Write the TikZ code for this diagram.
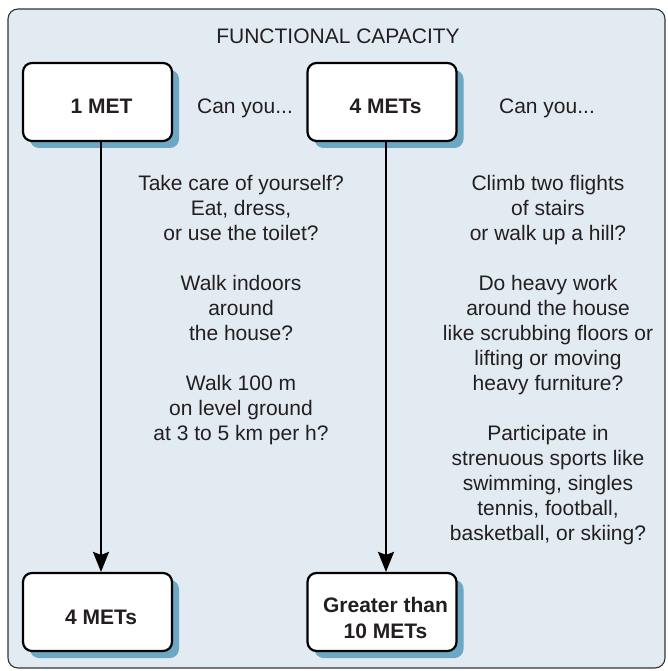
\documentclass[tikz,border=0pt]{standalone}
\usepackage{fontspec}
\setmainfont{Liberation Sans}
\usetikzlibrary{arrows.meta}
\definecolor{bgpanel}{HTML}{E3EBF2}
\definecolor{shadowblue}{HTML}{6CA7C3}
\definecolor{framegray}{HTML}{333333}
\definecolor{txtgray}{HTML}{231F20}
\begin{document}
\begin{tikzpicture}[x=1pt,y=-1pt,
  metbox/.style={draw=black,line width=2.2pt,fill=white,rounded corners=9pt,
    minimum width=149pt,minimum height=78pt,inner sep=0pt},
  shadowbox/.style={fill=shadowblue,rounded corners=9pt,minimum width=149pt,minimum height=78pt,inner sep=0pt},
  mettext/.style={align=center,font=\fontsize{21}{26}\selectfont\bfseries,text=txtgray,inner sep=0pt,anchor=base},
  bodytext/.style={align=center,font=\fontsize{21}{25}\selectfont,text=txtgray,inner sep=0pt},
  flow/.style={line width=2pt,-{Stealth[length=20pt,width=16pt,inset=3pt]}}]
\useasboundingbox (0,0) rectangle (668,671);
\draw[draw=framegray,fill=bgpanel,line width=1.1pt,rounded corners=10pt] (8,9) rectangle (665,668);
\node[bodytext] (title) at (338,36.5) {FUNCTIONAL CAPACITY};
% shadows
\node[shadowbox] (s1) at (104.5,109) {};
\node[shadowbox] (s2) at (389,109) {};
\node[shadowbox] (s3) at (104.5,619) {};
\node[shadowbox] (s4) at (389,619) {};
% boxes
\node[metbox] (met1) at (97.5,102) {};
\node[metbox] (met4) at (382,102) {};
\node[metbox] (res4) at (97.5,612) {};
\node[metbox] (res10) at (382,612) {};
\node[mettext] (t1) at (101.5,113.5) {1 MET};
\node[mettext] (t4) at (385.5,113.5) {4 METs};
\node[mettext] (tr4) at (101,624.5) {4 METs};
\node[mettext] (tr10a) at (385.5,612.3) {Greater than};
\node[mettext] (tr10b) at (385.5,638.3) {10 METs};
\node[bodytext,anchor=base] (can1) at (245,113.5) {Can you...};
\node[bodytext,anchor=base] (can2) at (547,113.5) {Can you...};
\node[bodytext,anchor=north] (left) at (241,175) {Take care of yourself?\\Eat, dress,\\or use the toilet?\\[25pt]Walk indoors\\around\\the house?\\[25pt]Walk 100 m\\on level ground\\at 3 to 5 km per h?};
\node[bodytext,anchor=north] (right) at (548,175) {Climb two flights\\of stairs\\or walk up a hill?\\[25pt]Do heavy work\\around the house\\like scrubbing floors or\\lifting or moving\\heavy furniture?\\[25pt]Participate in\\strenuous sports like\\swimming, singles\\tennis, football,\\basketball, or skiing?};
\draw[flow] ([xshift=3.5pt]met1.south) -- ([xshift=3.5pt]res4.north);
\draw[flow] ([xshift=4pt]met4.south) -- ([xshift=4pt]res10.north);
\end{tikzpicture}
\end{document}
